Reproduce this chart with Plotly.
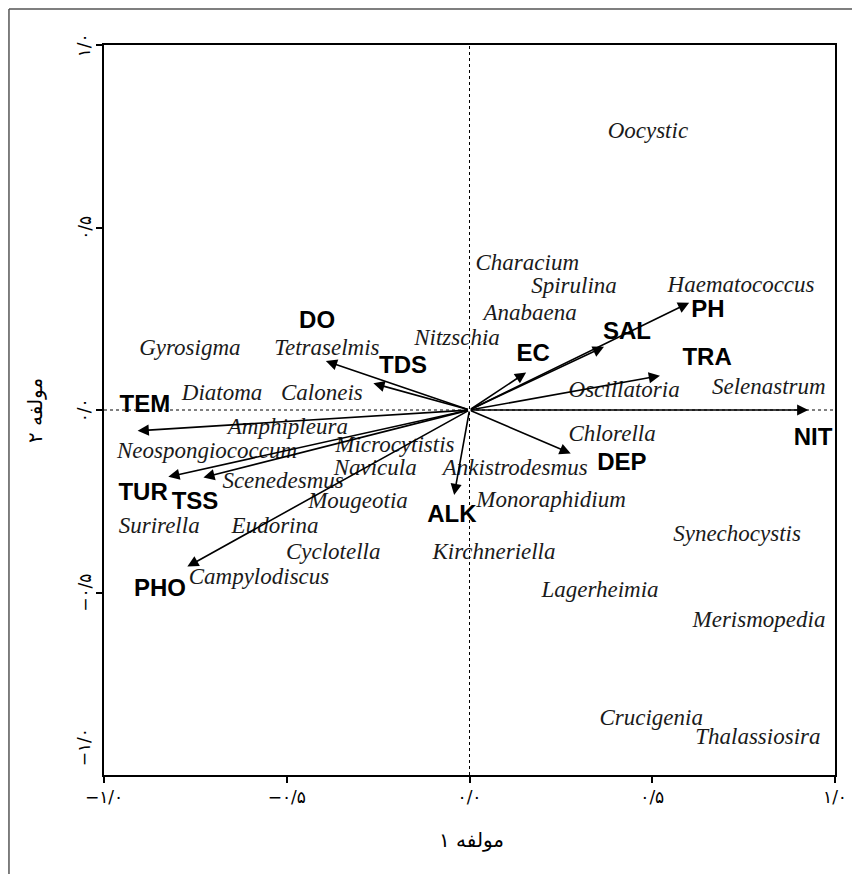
import plotly.graph_objects as go

# Environmental variables (arrow tips) and label positions
env_names = ["TEM", "TUR", "TSS", "PHO", "DO", "TDS", "ALK", "EC", "SAL", "PH", "TRA", "NIT", "DEP"]
env_x = [-0.908, -0.824, -0.728, -0.772, -0.393, -0.263, -0.042, 0.155, 0.368, 0.601, 0.521, 0.927, 0.277]
env_y = [-0.057, -0.183, -0.185, -0.429, 0.134, 0.073, -0.233, 0.103, 0.173, 0.294, 0.094, 0.0, -0.119]
env_label_x = [-0.888, -0.893, -0.751, -0.847, -0.417, -0.182, -0.048, 0.174, 0.431, 0.652, 0.650, 0.940, 0.417]
env_label_y = [0.011, -0.230, -0.255, -0.493, 0.241, 0.118, -0.290, 0.151, 0.211, 0.270, 0.140, -0.079, -0.148]

# Species scores
species_names = ["Oocystic", "Characium", "Spirulina", "Haematococcus", "Anabaena", "Nitzschia",
                 "Gyrosigma", "Tetraselmis", "Diatoma", "Caloneis", "Oscillatoria", "Selenastrum",
                 "Amphipleura", "Neospongiococcum", "Microcytistis", "Chlorella", "Navicula",
                 "Ankistrodesmus", "Scenedesmus", "Mougeotia", "Monoraphidium", "Surirella",
                 "Eudorina", "Synechocystis", "Cyclotella", "Kirchneriella", "Campylodiscus",
                 "Lagerheimia", "Merismopedia", "Crucigenia", "Thalassiosira"]
species_x = [0.488, 0.158, 0.286, 0.743, 0.166, -0.034, -0.765, -0.390, -0.677, -0.404, 0.423, 0.819,
             -0.497, -0.718, -0.204, 0.390, -0.258, 0.125, -0.510, -0.305, 0.223, -0.849,
             -0.532, 0.732, -0.373, 0.067, -0.576, 0.357, 0.792, 0.497, 0.789]
species_y = [0.762, 0.400, 0.337, 0.340, 0.263, 0.195, 0.167, 0.167, 0.044, 0.044, 0.052, 0.060,
             -0.049, -0.115, -0.099, -0.068, -0.162, -0.162, -0.199, -0.253, -0.249, -0.321,
             -0.321, -0.342, -0.392, -0.392, -0.460, -0.496, -0.578, -0.847, -0.899]

x_tick_vals = [-1.0, -0.5, 0.0, 0.5, 1.0]
x_tick_text = ["−۱/۰", "−۰/۵", "۰/۰", "۰/۵", "۱/۰"]
y_tick_vals = [1.0, 0.5, 0.0, -0.5, -1.0]
y_tick_text = ["۱/۰", "۰/۵", "۰/۰", "−۰/۵", "−۱/۰"]

x_title = "مولفه ۱"
y_title = "مولفه ۲"

fig = go.Figure()

fig.add_trace(go.Scatter(
    x=species_x, y=species_y, mode="text", text=species_names,
    textfont=dict(family="Liberation Serif", size=23, color="#1a1a1a", style="italic"),
    hoverinfo="text", showlegend=False,
))
fig.add_trace(go.Scatter(
    x=env_label_x, y=env_label_y, mode="text", text=env_names,
    textfont=dict(family="Liberation Sans", size=24, color="black", weight="bold"),
    hoverinfo="text", showlegend=False,
))

annotations = []
for xe, ye in zip(env_x, env_y):
    annotations.append(dict(
        x=xe, y=ye, ax=0, ay=0, xref="x", yref="y", axref="x", ayref="y",
        text="", showarrow=True, arrowhead=2, arrowsize=1.4, arrowwidth=1.6,
        arrowcolor="black", standoff=0,
    ))

for i, (v, t) in enumerate(zip(y_tick_vals, y_tick_text)):
    annotations.append(dict(
        x=-0.027, y=v, xref="paper", yref="y", text=t, showarrow=False,
        textangle=-90, xanchor="center", yanchor="middle",
        yshift=28 if i == len(y_tick_vals) - 1 else 0,
        font=dict(family="DejaVu Sans", size=17, color="black"),
    ))

annotations.append(dict(
    x=0.503, y=-0.089, xref="paper", yref="paper", text=x_title, showarrow=False,
    xanchor="center", yanchor="middle",
    font=dict(family="DejaVu Sans", size=20, color="black"),
))
annotations.append(dict(
    x=-0.0944, y=0.5, xref="paper", yref="paper", text=y_title, showarrow=False,
    textangle=-90, xanchor="center", yanchor="middle",
    font=dict(family="DejaVu Sans", size=20, color="black"),
))

shapes = [
    dict(type="line", xref="x", yref="paper", x0=0, x1=0, y0=0, y1=1,
         line=dict(color="black", width=1, dash="3px,3px"), layer="below"),
    dict(type="line", xref="paper", yref="y", x0=0, x1=1, y0=0, y1=0,
         line=dict(color="black", width=1, dash="3px,3px"), layer="below"),
    # outer image frame (top and left)
    dict(type="line", xref="paper", yref="paper", x0=-0.13, x1=1.04, y0=1.0493, y1=1.0493,
         line=dict(color="#555555", width=1.5)),
    dict(type="line", xref="paper", yref="paper", x0=-0.13, x1=-0.13, y0=1.0493, y1=-0.14,
         line=dict(color="#555555", width=1.5)),
]

fig.update_layout(
    width=852, height=866,
    margin=dict(l=96, r=25, t=37, b=99),
    paper_bgcolor="white", plot_bgcolor="white",
    annotations=annotations, shapes=shapes,
    showlegend=False,
)
fig.update_xaxes(
    range=[-1, 1], tickvals=x_tick_vals, ticktext=x_tick_text,
    ticks="outside", ticklen=6, tickwidth=1.5, tickcolor="black",
    showline=True, linewidth=2, linecolor="black", mirror=True,
    showgrid=False, zeroline=False,
    tickfont=dict(family="DejaVu Sans", size=17, color="black"),
)
fig.update_yaxes(
    range=[-1, 1], tickvals=y_tick_vals[:-1], showticklabels=False,
    ticks="outside", ticklen=6, tickwidth=1.5, tickcolor="black",
    showline=True, linewidth=2, linecolor="black", mirror=True,
    showgrid=False, zeroline=False,
)

fig.write_html("out.html")
